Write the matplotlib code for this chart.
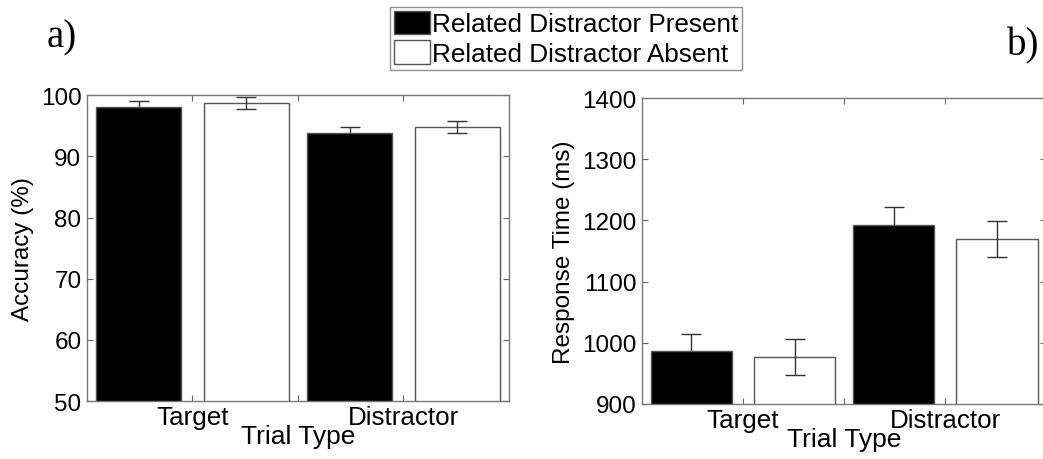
import matplotlib
matplotlib.use("Agg")
import matplotlib.pyplot as plt
import numpy as np

plt.rcParams['font.family'] = ['Liberation Sans', 'DejaVu Sans']

trial_types = ["Target", "Distractor"]
series_names = ["Related Distractor Present", "Related Distractor Absent"]

acc_present = [98.0, 93.8]
acc_present_err = [1.0, 1.0]
acc_absent = [98.7, 94.8]
acc_absent_err = [1.0, 1.0]

rt_present = [986, 1192]
rt_present_err = [29, 30]
rt_absent = [977, 1170]
rt_absent_err = [29, 29]

fig = plt.figure(figsize=(10.43, 4.60), dpi=100)
ax_a = fig.add_axes([0.0834, 0.126, 0.4046, 0.665])
ax_b = fig.add_axes([0.6155, 0.1196, 0.3875, 0.665])

x = np.arange(1, len(trial_types) + 1)
off = 0.255
w = 0.405
edge = '#555555'
fs_y = 17.5
fs_x = 18.7


def draw_panel(ax, pres, pres_err, absn, absn_err, ylim, yticks, ylabel):
    # error bars of the black bars sit behind them, so only the upper half shows
    ax.errorbar(x - off, pres, yerr=pres_err, fmt='none', ecolor='#333333',
                elinewidth=1, capsize=7, capthick=1, zorder=1)
    b1 = ax.bar(x - off, pres, w, color='black', edgecolor=edge, linewidth=1, zorder=2)
    b2 = ax.bar(x + off, absn, w, color='white', edgecolor=edge, linewidth=1, zorder=2)
    ax.errorbar(x + off, absn, yerr=absn_err, fmt='none', ecolor='#333333',
                elinewidth=1, capsize=7, capthick=1, zorder=3)
    ax.set_xlim(0.5, 2.5)
    ax.set_ylim(*ylim)
    ax.set_yticks(yticks)
    ax.set_xticks([1, 1.5, 2])
    ax.set_xticklabels([trial_types[0], "", trial_types[1]])
    ax.tick_params(direction='in', top=True, right=True, length=4, color='#666666',
                   labelsize=fs_y, pad=4)
    ax.tick_params(axis='x', labelsize=fs_x, pad=3)
    for s in ax.spines.values():
        s.set_color('#777777')
        s.set_linewidth(1)
    ax.set_xlabel("Trial Type", fontsize=fs_x + 0.3, labelpad=-4)
    ax.set_ylabel(ylabel, fontsize=fs_y, labelpad=5)
    return b1, b2


b1, b2 = draw_panel(ax_a, acc_present, acc_present_err, acc_absent, acc_absent_err,
                    (50, 100), [50, 60, 70, 80, 90, 100], "Accuracy (%)")
draw_panel(ax_b, rt_present, rt_present_err, rt_absent, rt_absent_err,
           (900, 1400), [900, 1000, 1100, 1200, 1300, 1400], "Response Time (ms)")

leg = fig.legend([b1, b2], series_names, loc='upper center', bbox_to_anchor=(0.543, 0.983),
                 fontsize=18.8, frameon=True, fancybox=False, edgecolor='#777777',
                 handlelength=1.35, handleheight=1.0, handletextpad=0.1,
                 borderpad=0.15, labelspacing=0.15, borderaxespad=0)
leg.get_frame().set_linewidth(1)

fig.text(0.045, 0.896, "a)", fontsize=28, family=['Liberation Serif'], va='baseline')
fig.text(0.965, 0.880, "b)", fontsize=28, family=['Liberation Serif'], va='baseline')

fig.savefig("out.png", dpi=100)
